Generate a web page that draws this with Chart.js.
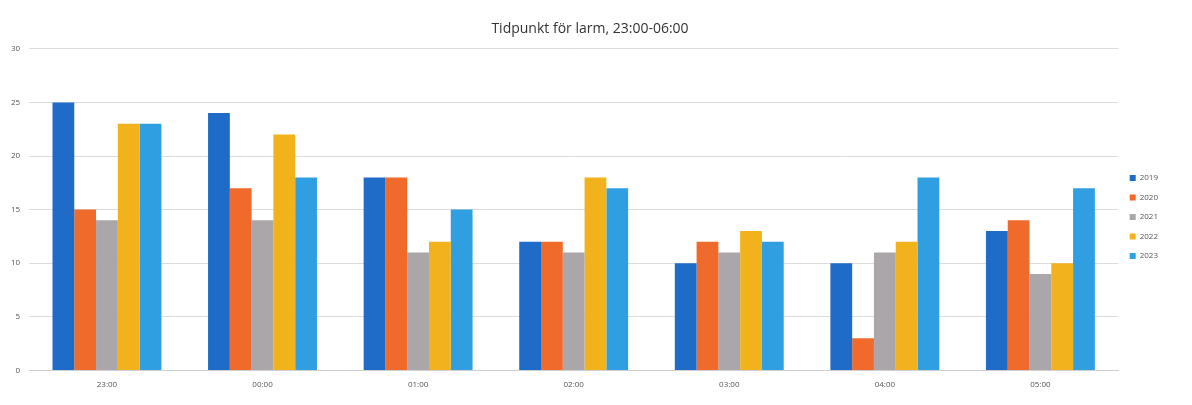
<!DOCTYPE html>
<html lang="sv">
<head>
  <meta charset="UTF-8">
  <title>Tidpunkt för larm</title>
  <script src="https://cdn.jsdelivr.net/npm/chart.js"></script>
  <style>
    body { margin: 0; background: #fff; }
    #wrap { width: 1192px; height: 405px; }
  </style>
</head>
<body>
  <div id="wrap"><canvas id="larm" width="1192" height="405"></canvas></div>

  <script>
    // Kategorier (klockslag)
    const timmar = ['23:00', '00:00', '01:00', '02:00', '03:00', '04:00', '05:00'];

    // Antal larm per år
    const ar2019 = [25, 24, 18, 12, 10, 10, 13];
    const ar2020 = [15, 17, 18, 12, 12, 3, 14];
    const ar2021 = [14, 14, 11, 11, 11, 11, 9];
    const ar2022 = [23, 22, 12, 18, 13, 12, 10];
    const ar2023 = [23, 18, 15, 17, 12, 18, 17];

    const yTicks = [0, 5, 10, 15, 20, 25, 30];

    const serier = [
      { label: '2019', data: ar2019, color: '#1f6cc8' },
      { label: '2020', data: ar2020, color: '#f06a2b' },
      { label: '2021', data: ar2021, color: '#aaa6aa' },
      { label: '2022', data: ar2022, color: '#f1b21c' },
      { label: '2023', data: ar2023, color: '#2f9fe2' }
    ];

    // flyttar legenden lite nedåt och titeln lite åt höger, som i originalet
    const justera = {
      id: 'justera',
      afterUpdate(chart) {
        if (chart.legend) {
          chart.legend.top += 12;
          chart.legend.bottom += 12;
        }
        if (chart.titleBlock) {
          chart.titleBlock.left += 5;
          chart.titleBlock.right += 5;
        }
      }
    };

    const ctx = document.getElementById('larm').getContext('2d');
    new Chart(ctx, {
      type: 'bar',
      data: {
        labels: timmar,
        datasets: serier.map(s => ({
          label: s.label,
          data: s.data,
          backgroundColor: s.color,
          borderWidth: 0,
          categoryPercentage: 0.7,
          barPercentage: 1.0
        }))
      },
      options: {
        responsive: false,
        animation: false,
        layout: { padding: { left: 2, right: 24, top: 18, bottom: 13 } },
        plugins: {
          title: {
            display: true,
            text: 'Tidpunkt för larm, 23:00-06:00',
            color: '#333',
            font: { family: 'Open Sans', size: 14, weight: 'normal' },
            padding: { top: 3, bottom: 11 }
          },
          legend: {
            position: 'right',
            labels: {
              color: '#555',
              font: { family: 'Open Sans', size: 8 },
              boxWidth: 6,
              boxHeight: 6,
              padding: 11.5
            }
          },
          tooltip: { enabled: false }
        },
        scales: {
          x: {
            grid: { display: false },
            border: { color: '#cfcfcf' },
            ticks: { color: '#555', font: { family: 'Open Sans', size: 8 }, padding: 2 }
          },
          y: {
            min: 0,
            max: 30,
            afterBuildTicks: axis => { axis.ticks = yTicks.map(v => ({ value: v })); },
            grid: { color: '#dcdcdc', drawTicks: false },
            border: { display: false },
            ticks: { color: '#555', font: { family: 'Open Sans', size: 8 }, padding: 9 }
          }
        }
      },
      plugins: [justera]
    });
  </script>
</body>
</html>
